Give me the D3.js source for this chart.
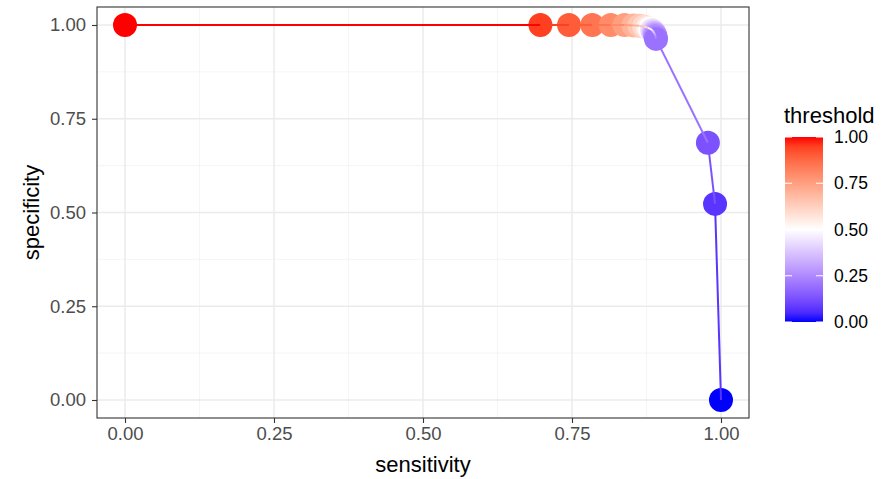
<!DOCTYPE html>
<html>
<head>
<meta charset="utf-8">
<script src="https://cdn.jsdelivr.net/npm/d3@7"></script>
<style>
  body { margin: 0; background: #fff; }
  text { font-family: "Liberation Sans", Arial, sans-serif; }
</style>
</head>
<body>
<script>
// values
const threshold   = [1.00, 0.95, 0.90, 0.85, 0.80, 0.75, 0.70, 0.65, 0.60, 0.55, 0.50, 0.45, 0.40, 0.35, 0.30, 0.25, 0.20, 0.13, 0.07, 0.00];
const sensitivity = [0.000, 0.697, 0.745, 0.784, 0.815, 0.838, 0.853, 0.863, 0.871, 0.877, 0.881, 0.884, 0.886, 0.888, 0.889, 0.890, 0.891, 0.978, 0.990, 1.000];
const specificity = [1.000, 1.000, 1.000, 1.000, 1.000, 1.000, 0.999, 0.998, 0.996, 0.993, 0.990, 0.987, 0.983, 0.979, 0.975, 0.970, 0.963, 0.686, 0.523, 0.000];
const axisTicks   = [0, 0.25, 0.5, 0.75, 1];
const minorTicks  = [0.125, 0.375, 0.625, 0.875];

const W = 886, H = 479;
const panel = {left: 97, right: 749, top: 7, bottom: 418};

const svg = d3.select("body")
    .append("svg")
    .attr("width", W)
    .attr("height", H);

const x = d3.scaleLinear().domain([0, 1]).range([125, 721]);
const y = d3.scaleLinear().domain([0, 1]).range([400, 25]);

const colour = d3.scaleLinear()
    .domain([0, 0.5, 1])
    .range(["#0000ff", "#ffffff", "#ff0000"])
    .interpolate(d3.interpolateLab);

const fmt = d3.format(".2f");

// grid
const grid = svg.append("g");
grid.selectAll(".vminor").data(minorTicks).enter().append("line")
    .attr("x1", d => x(d)).attr("x2", d => x(d))
    .attr("y1", panel.top).attr("y2", panel.bottom)
    .style("stroke", "#f2f2f2").style("stroke-width", 0.8);
grid.selectAll(".hminor").data(minorTicks).enter().append("line")
    .attr("y1", d => y(d)).attr("y2", d => y(d))
    .attr("x1", panel.left).attr("x2", panel.right)
    .style("stroke", "#f2f2f2").style("stroke-width", 0.8);
grid.selectAll(".vmajor").data(axisTicks).enter().append("line")
    .attr("x1", d => x(d)).attr("x2", d => x(d))
    .attr("y1", panel.top).attr("y2", panel.bottom)
    .style("stroke", "#ebebeb").style("stroke-width", 1.5);
grid.selectAll(".hmajor").data(axisTicks).enter().append("line")
    .attr("y1", d => y(d)).attr("y2", d => y(d))
    .attr("x1", panel.left).attr("x2", panel.right)
    .style("stroke", "#ebebeb").style("stroke-width", 1.5);

// data
const pts = threshold.map((t, i) => ({t: t, sx: sensitivity[i], sy: specificity[i]}));

svg.append("g").selectAll("circle")
    .data(pts)
    .enter()
    .append("circle")
    .attr("cx", d => x(d.sx))
    .attr("cy", d => y(d.sy))
    .attr("r", 12)
    .style("fill", d => colour(d.t));

// path segments coloured by starting point
svg.append("g").selectAll("line")
    .data(pts.slice(0, -1))
    .enter()
    .append("line")
    .attr("x1", d => x(d.sx))
    .attr("y1", d => y(d.sy))
    .attr("x2", (d, i) => x(pts[i + 1].sx))
    .attr("y2", (d, i) => y(pts[i + 1].sy))
    .style("stroke", d => colour(d.t))
    .style("stroke-width", 2);

// panel border
svg.append("rect")
    .attr("x", panel.left).attr("y", panel.top)
    .attr("width", panel.right - panel.left)
    .attr("height", panel.bottom - panel.top)
    .style("fill", "none").style("stroke", "#333333").style("stroke-width", 1.1);

// axes
const xAxis = svg.append("g")
    .attr("transform", `translate(0,${panel.bottom})`)
    .call(d3.axisBottom(x).tickValues(axisTicks).tickFormat(fmt).tickSize(5).tickPadding(4));
const yAxis = svg.append("g")
    .attr("transform", `translate(${panel.left},0)`)
    .call(d3.axisLeft(y).tickValues(axisTicks).tickFormat(fmt).tickSize(5).tickPadding(6));
[xAxis, yAxis].forEach(a => {
    a.select(".domain").remove();
    a.selectAll(".tick line").style("stroke", "#333333").style("stroke-width", 1.1);
    a.selectAll(".tick text")
        .style("fill", "#4d4d4d")
        .style("font-size", "18.5px")
        .style("font-family", "'Liberation Sans', Arial, sans-serif");
});

svg.append("text")
    .attr("x", (panel.left + panel.right) / 2)
    .attr("y", 472)
    .attr("text-anchor", "middle")
    .style("font-size", "22px")
    .text("sensitivity");

svg.append("text")
    .attr("transform", `translate(39,${(panel.top + panel.bottom) / 2}) rotate(-90)`)
    .attr("text-anchor", "middle")
    .style("font-size", "22px")
    .text("specificity");

// legend colour bar
const bar = {x: 785, w: 38};
const ly = d3.scaleLinear().domain([0, 1]).range([322, 137]);

const grad = svg.append("defs").append("linearGradient")
    .attr("id", "thgrad")
    .attr("x1", 0).attr("y1", 1).attr("x2", 0).attr("y2", 0);
grad.selectAll("stop")
    .data(d3.range(0, 1.0001, 0.05))
    .enter()
    .append("stop")
    .attr("offset", d => d)
    .attr("stop-color", d => colour(d));

svg.append("rect")
    .attr("x", bar.x).attr("y", ly(1))
    .attr("width", bar.w).attr("height", ly(0) - ly(1))
    .style("fill", "url(#thgrad)");

const legTicks = svg.append("g");
legTicks.selectAll(".tl").data(axisTicks).enter().append("line")
    .attr("x1", bar.x).attr("x2", bar.x + 7)
    .attr("y1", d => ly(d)).attr("y2", d => ly(d))
    .style("stroke", "#ffffff").style("stroke-width", 1);
legTicks.selectAll(".tr").data(axisTicks).enter().append("line")
    .attr("x1", bar.x + bar.w - 7).attr("x2", bar.x + bar.w)
    .attr("y1", d => ly(d)).attr("y2", d => ly(d))
    .style("stroke", "#ffffff").style("stroke-width", 1);

svg.append("g").selectAll("text")
    .data(axisTicks)
    .enter()
    .append("text")
    .attr("x", 834)
    .attr("y", d => ly(d))
    .attr("dy", "0.35em")
    .style("font-size", "17.5px")
    .style("fill", "#000")
    .text(d => fmt(d));

svg.append("text")
    .attr("x", 784)
    .attr("y", 123)
    .style("font-size", "22px")
    .text("threshold");
</script>
</body>
</html>
